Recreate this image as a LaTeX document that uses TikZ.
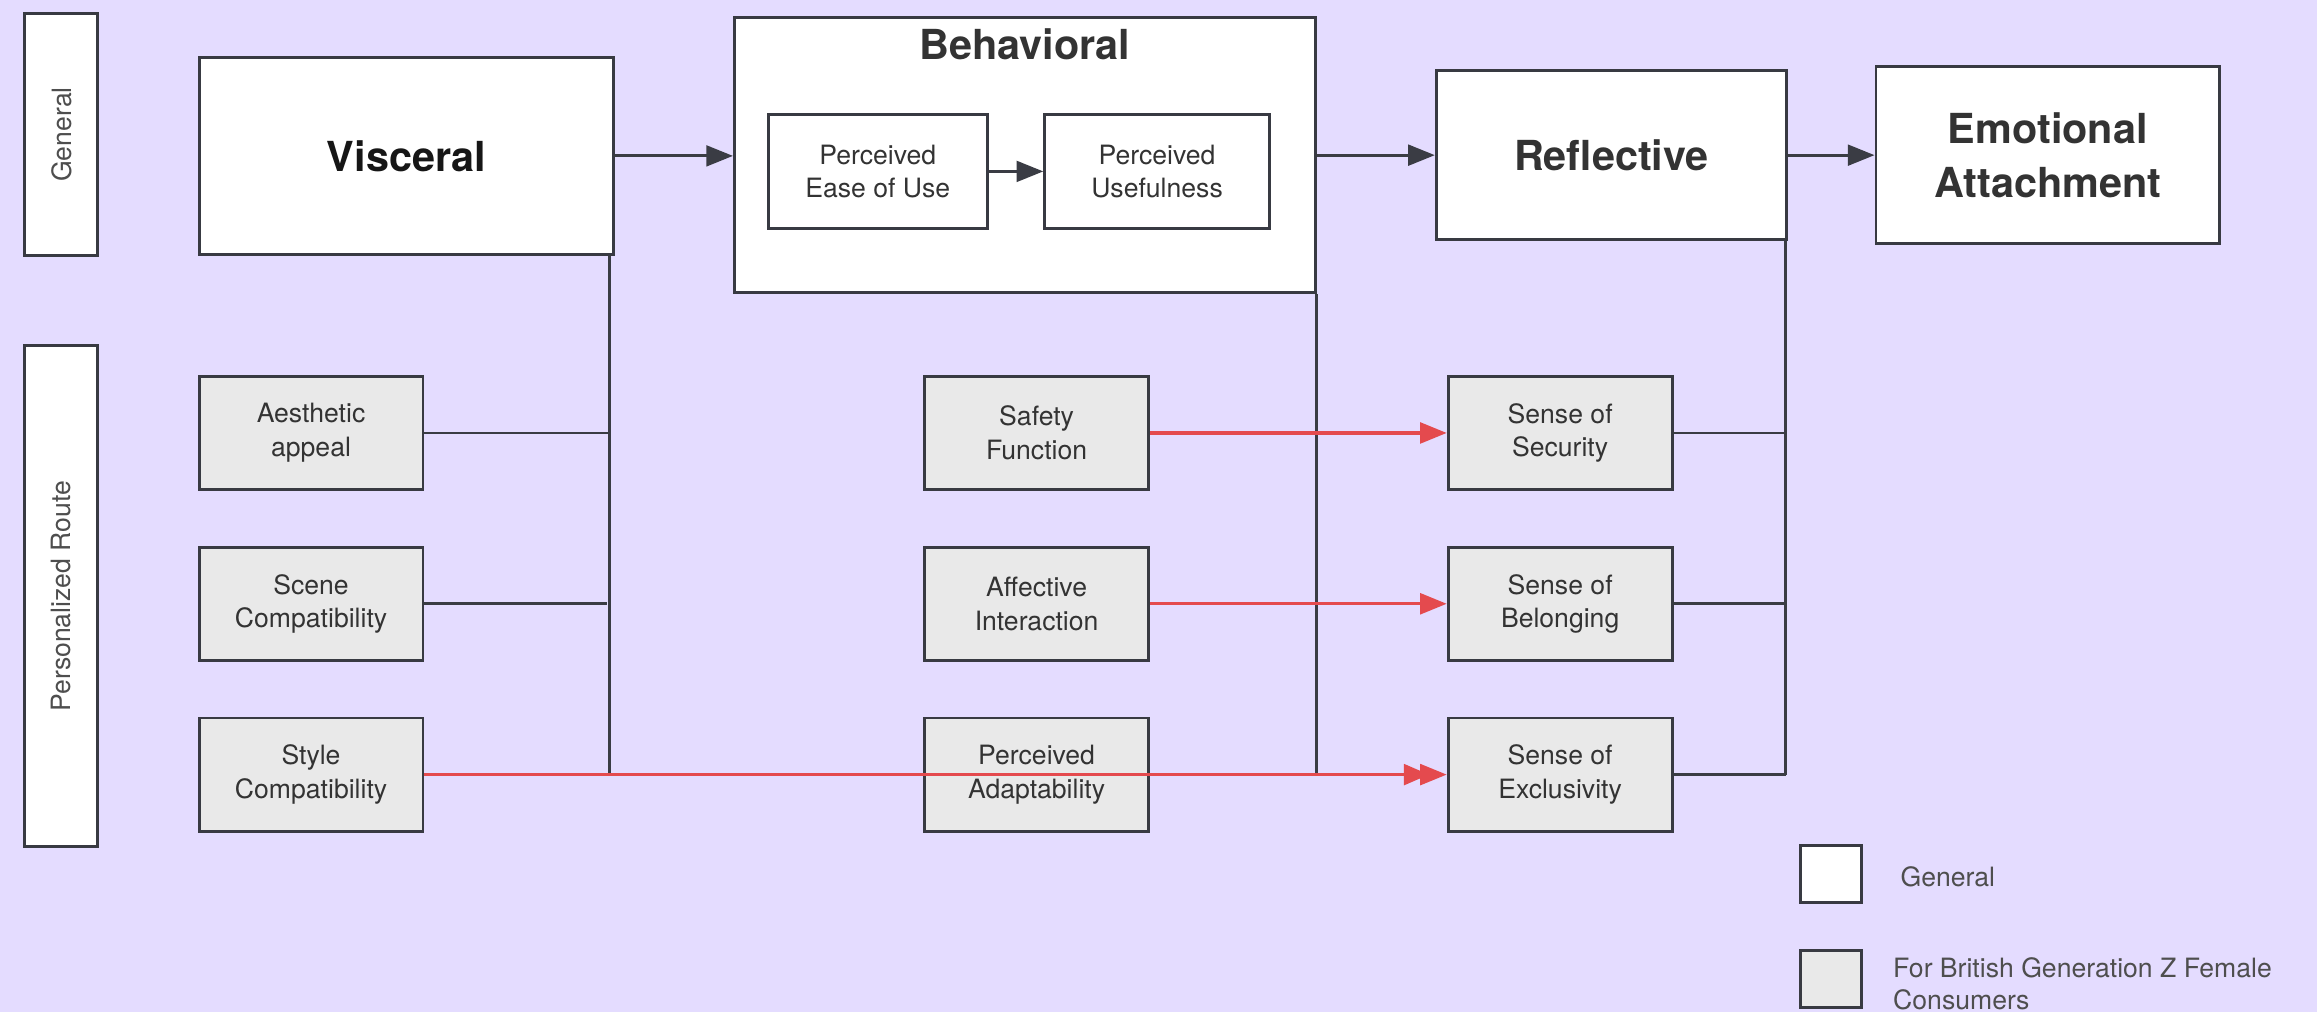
\documentclass[tikz,border=0pt]{standalone}
\usepackage{fontspec}
\setmainfont{TeX Gyre Heros}
\usetikzlibrary{arrows.meta,calc}

\definecolor{bg}{RGB}{228,220,255}
\definecolor{edge}{RGB}{56,58,66}
\definecolor{wirecol}{RGB}{58,60,68}
\definecolor{hot}{RGB}{228,74,78}
\definecolor{panel}{RGB}{233,233,233}
\definecolor{ink}{RGB}{51,51,51}
\definecolor{inkdark}{RGB}{22,22,22}
\definecolor{inksoft}{RGB}{78,78,78}

\begin{document}
\begin{tikzpicture}[x=1pt,y=-1pt,
  box/.style={draw=edge, line width=2pt, inner sep=0pt, align=center,
    text=ink, font=\fontsize{18}{22.7}\selectfont},
  genbox/.style={box, fill=white},
  perbox/.style={box, fill=panel, minimum width=151.5pt, minimum height=76.6pt},
  headbox/.style={genbox, font=\bfseries\fontsize{28}{37}\selectfont},
  sidebox/.style={genbox, text=inksoft, rotate=90, minimum height=49.5pt},
  link/.style={draw=wirecol, line width=1.9pt},
  tipped/.style={-{Triangle[length=18pt,width=14pt]}},
  redlink/.style={draw=hot, line width=2.3pt, -{Triangle[length=18pt,width=14pt]}},
  legendtext/.style={inner sep=0pt, text=inksoft, align=left,
    font=\fontsize{18}{21.5}\selectfont}
]
% canvas
\fill[bg] (0,0) rectangle (1568,685);
\useasboundingbox (0,0) rectangle (1568,685);

% row labels
\node[sidebox, minimum width=164pt] (rowgen) at (41.5,91) {General};
\node[sidebox, minimum width=339pt] (rowper) at (41.5,403.5) {Personalized Route};

% general route
\node[headbox, text=inkdark, minimum width=280pt, minimum height=133pt] (visc) at (275,105.5) {Visceral};
\node[genbox, minimum width=393pt, minimum height=186pt] (behav) at (693.5,105) {};
\node[anchor=base, inner sep=0pt, text=ink, font=\bfseries\fontsize{28}{37}\selectfont] (behavtitle) at (693.5,40) {Behavioral};
\node[genbox, minimum width=148pt, minimum height=77pt] (peou) at (594,116) {Perceived\\Ease of Use};
\node[genbox, minimum width=152pt, minimum height=77pt] (pu) at (783,116) {Perceived\\Usefulness};
\node[headbox, minimum width=237pt, minimum height=114pt] (refl) at (1090.5,105) {Reflective};
\node[headbox, minimum width=232.5pt, minimum height=120pt] (emo) at (1385.8,105) {Emotional\\Attachment};

% personalized route
\node[perbox] (aes)   at (210.5,293)   {Aesthetic\\appeal};
\node[perbox] (scene) at (210.5,408.6) {Scene\\Compatibility};
\node[perbox] (style) at (210.5,524.2) {Style\\Compatibility};
\node[perbox] (safe)  at (701.5,293)   {Safety\\Function};
\node[perbox] (affe)  at (701.5,408.6) {Affective\\Interaction};
\node[perbox] (adapt) at (701.5,524.2) {Perceived\\Adaptability};
\node[perbox] (secu)  at (1055.8,293)   {Sense of\\Security};
\node[perbox] (belo)  at (1055.8,408.6) {Sense of\\Belonging};
\node[perbox] (excl)  at (1055.8,524.2) {Sense of\\Exclusivity};

% legend
\node[genbox, minimum width=41.3pt, minimum height=38.6pt] (keygen) at (1239,591.3) {};
\node[box, fill=panel, minimum width=41.3pt, minimum height=38.6pt] (keyper) at (1239,662.7) {};
\node[legendtext, anchor=base west] (keygentext) at (1286,600) {General};
\node[legendtext, anchor=north west] (keypertext) at (1281,648) {For British Generation Z Female\\Consumers};

% main chain
\draw[link, tipped] (visc.east) -- (visc.east -| behav.west);
\draw[link, tipped] (peou.east) -- (pu.west);
\draw[link, tipped] (behav.east) -- (behav.east -| refl.west);
\draw[link, tipped] (refl.east) -- (refl.east -| emo.west);

% feeders into the visceral level
\coordinate (vtop) at ([xshift=-3.5pt]visc.south east);
\coordinate (vbot) at (vtop |- style.east);
\draw[link] (vtop) -- (vbot);
\draw[link] (aes.east) -- (aes.east -| vtop);
\draw[link] (scene.east) -- ([xshift=-2pt]scene.east -| vtop);

% behavioral drop line
\coordinate (btop) at (behav.south east);
\coordinate (bbot) at (btop |- adapt.east);
\draw[link] (btop) -- (bbot);

% reflective collectors
\coordinate (rtop) at ([xshift=-1.5pt]refl.south east);
\coordinate (rbot) at (rtop |- excl.east);
\draw[link] (rtop) -- (rbot);
\draw[link] (secu.east) -- (secu.east -| rtop);
\draw[link] (belo.east) -- (belo.east -| rtop);
\draw[link] (excl.east) -- (rbot);

% personalized links
\draw[redlink] (safe.east) -- (secu.west);
\draw[redlink] (affe.east) -- (belo.west);
\draw[draw=hot, line width=2.3pt,
  -{Triangle[length=17pt,width=14pt,sep=-6pt]Triangle[length=18pt,width=14pt]}]
  (style.east) -- (excl.west);
\end{tikzpicture}
\end{document}
